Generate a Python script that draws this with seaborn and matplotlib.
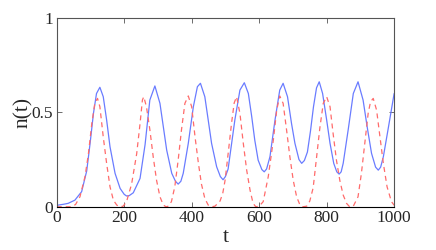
import matplotlib
matplotlib.use("Agg")
import matplotlib.pyplot as plt
import seaborn as sns

# values
t_blue = [0, 5, 20, 34, 54, 74, 89, 99, 109, 118, 128, 138, 148, 158, 173, 188, 200, 207, 215, 227,
          247, 262, 276, 291, 306, 316, 326, 341, 352, 360, 368, 375, 390, 405, 417, 426, 439, 449,
          459, 474, 485, 493, 500, 508, 518, 528, 543, 556, 568, 578, 587, 597, 608, 615, 622, 632,
          647, 661, 671, 684, 696, 706, 718, 726, 734, 743, 752, 761, 770, 778, 788, 800, 810, 821,
          830, 837, 843, 849, 864, 879, 893, 908, 920, 933, 945, 953, 960, 968, 982, 1000]
n_blue = [0.005, 0.009, 0.013, 0.018, 0.035, 0.08, 0.19, 0.336, 0.495, 0.60, 0.633, 0.583, 0.46,
          0.318, 0.177, 0.097, 0.066, 0.057, 0.059, 0.074, 0.15, 0.33, 0.565, 0.64, 0.548, 0.424,
          0.30, 0.177, 0.135, 0.12, 0.135, 0.177, 0.336, 0.53, 0.636, 0.654, 0.583, 0.46, 0.336,
          0.212, 0.16, 0.143, 0.16, 0.20, 0.33, 0.46, 0.618, 0.657, 0.60, 0.477, 0.353, 0.247,
          0.197, 0.185, 0.20, 0.265, 0.46, 0.618, 0.654, 0.583, 0.44, 0.336, 0.25, 0.23, 0.245,
          0.29, 0.40, 0.53, 0.63, 0.662, 0.60, 0.46, 0.336, 0.23, 0.185, 0.173, 0.185, 0.23, 0.41,
          0.60, 0.662, 0.565, 0.424, 0.283, 0.21, 0.194, 0.21, 0.265, 0.41, 0.60]

t_red = [0, 44, 56, 69, 84, 94, 104, 113, 121, 128, 138, 148, 158, 168, 178, 187, 197, 207, 222,
         237, 247, 254, 258, 266, 276, 286, 296, 306, 316, 324, 331, 340, 350, 360, 370, 380, 390,
         400, 410, 420, 429, 439, 449, 459, 469, 484, 492, 499, 508, 518, 526, 533, 543, 553, 563,
         573, 582, 590, 600, 612, 627, 642, 652, 661, 671, 681, 691, 701, 711, 721, 730, 741, 750,
         760, 770, 780, 790, 800, 810, 819, 829, 839, 849, 859, 868, 879, 893, 903, 913, 923, 930,
         938, 948, 958, 968, 979, 992, 1000]
n_red = [0.0, 0.0, 0.012, 0.053, 0.16, 0.28, 0.44, 0.548, 0.574, 0.53, 0.37, 0.23, 0.106, 0.035,
         0.009, 0.0, 0.003, 0.027, 0.12, 0.28, 0.44, 0.565, 0.583, 0.53, 0.41, 0.265, 0.14, 0.053,
         0.009, 0.0, 0.003, 0.027, 0.106, 0.247, 0.41, 0.548, 0.587, 0.53, 0.37, 0.23, 0.12, 0.044,
         0.009, 0.0, 0.003, 0.03, 0.07, 0.14, 0.28, 0.44, 0.55, 0.583, 0.495, 0.336, 0.194, 0.088,
         0.018, 0.0, 0.003, 0.027, 0.16, 0.353, 0.512, 0.587, 0.548, 0.41, 0.265, 0.14, 0.053,
         0.009, 0.0, 0.003, 0.03, 0.10, 0.26, 0.42, 0.548, 0.583, 0.53, 0.39, 0.247, 0.14, 0.062,
         0.018, 0.0, 0.003, 0.053, 0.177, 0.336, 0.495, 0.556, 0.574, 0.512, 0.37, 0.23, 0.106,
         0.027, 0.008]

x_ticks = [0, 200, 400, 600, 800, 1000]
y_ticks = [0, 0.5, 1]
y_tick_labels = ["0", "0.5", "1"]

sns.set_style("ticks")
plt.rcParams['font.family'] = ['Liberation Serif', 'DejaVu Serif']

fig = plt.figure(figsize=(4.36, 2.5), dpi=100)
ax = fig.add_axes([0.130, 0.173, 0.774, 0.755])

sns.lineplot(x=t_blue, y=n_blue, ax=ax, color='#6a7cff', lw=0.9, sort=False)
sns.lineplot(x=t_red, y=n_red, ax=ax, color='#ff6b6b', lw=0.9, sort=False)
ax.lines[1].set_dashes([4, 3.2])

ax.set_xlim(0, 1000)
ax.set_ylim(0, 1)
ax.set_xticks(x_ticks)
ax.set_yticks(y_ticks)
ax.set_yticklabels(y_tick_labels)
ax.tick_params(direction='in', length=3.5, width=0.6, top=True, right=True,
               labelsize=12.5, color='#555555', pad=2.5)
for s in ax.spines.values():
    s.set_visible(True)
    s.set_linewidth(0.8)
    s.set_color('#555555')
ax.spines['bottom'].set_color('black')

ax.set_xlabel('t', fontsize=16, labelpad=1)
ax.set_ylabel('n(t)', fontsize=15.5, labelpad=-1)

fig.savefig('out.png', dpi=100)
